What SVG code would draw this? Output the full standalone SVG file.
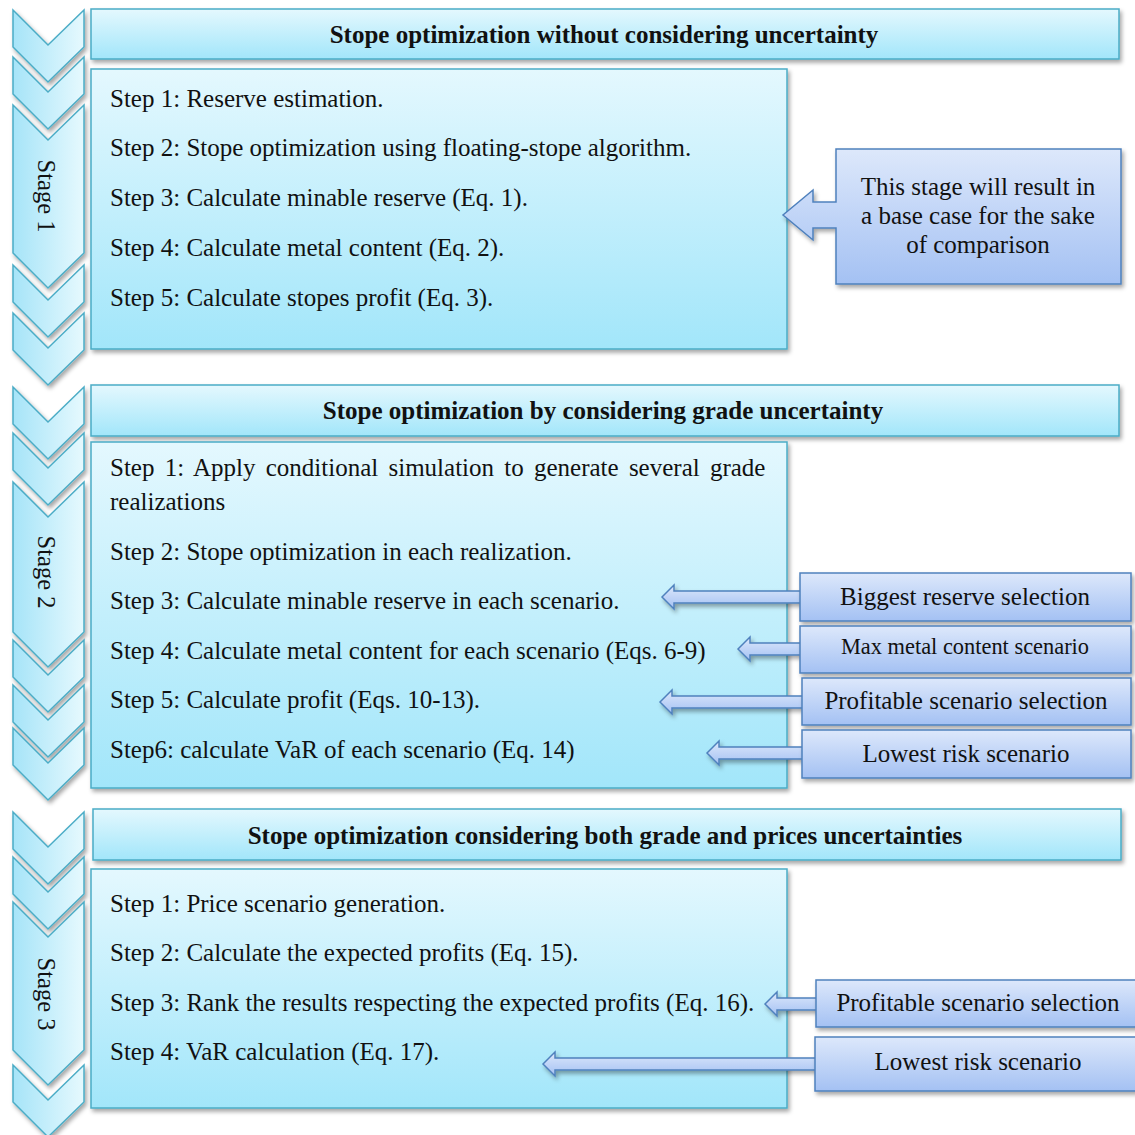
<svg xmlns="http://www.w3.org/2000/svg" width="1135" height="1135" viewBox="0 0 1135 1135">
<defs>
<linearGradient id="gBody" x1="0" y1="0" x2="0" y2="1"><stop offset="0" stop-color="#e4f8fe"/><stop offset="1" stop-color="#a2e6fa"/></linearGradient>
<linearGradient id="gChev" x1="0" y1="0" x2="1" y2="0"><stop offset="0" stop-color="#a6e4f8"/><stop offset="1" stop-color="#e6f9fe"/></linearGradient>
<linearGradient id="gCall" x1="0" y1="0" x2="0" y2="1"><stop offset="0" stop-color="#dde8fb"/><stop offset="1" stop-color="#a4c1f3"/></linearGradient>
<filter id="sh" x="-10%" y="-10%" width="130%" height="140%"><feDropShadow dx="2" dy="3" stdDeviation="2" flood-color="#000" flood-opacity="0.35"/></filter>
</defs>
<style>
.box{fill:url(#gBody);stroke:#4bacc6;stroke-width:1.5;filter:url(#sh)}
.chev{fill:url(#gChev);stroke:#4bacc6;stroke-width:1.5;filter:url(#sh)}
.call{fill:url(#gCall);stroke:#4f81bd;stroke-width:1.5;filter:url(#sh)}
.arr{fill:url(#gCall);stroke:#4f81bd;stroke-width:1.5;filter:url(#sh)}
text{font-family:"Liberation Serif","Times New Roman",serif;fill:#111}
.t{font-size:25px}
.h{font-size:25px;font-weight:bold;text-anchor:middle}
.c{font-size:25px;text-anchor:middle}
.cs{font-size:22.4px;text-anchor:middle}
.st{font-size:24.5px;text-anchor:middle}
</style>

<g id="chevrons">
<path class="chev" d="M13,10 L48,45 L84,10 L84,47 L48,82 L13,47 Z"/>
<path class="chev" d="M13,57 L48,92 L84,57 L84,94 L48,129 L13,94 Z"/>
<path class="chev" d="M13,105 L48,140 L84,105 L84,253 L48,288 L13,253 Z"/>
<path class="chev" d="M13,265 L48,300 L84,265 L84,302 L48,337 L13,302 Z"/>
<path class="chev" d="M13,313 L48,348 L84,313 L84,350 L48,385 L13,350 Z"/>

<path class="chev" d="M13,387 L48,422 L84,387 L84,424 L48,459 L13,424 Z"/>
<path class="chev" d="M13,433 L48,468 L84,433 L84,470 L48,505 L13,470 Z"/>
<path class="chev" d="M13,482 L48,517 L84,482 L84,632 L48,667 L13,632 Z"/>
<path class="chev" d="M13,640 L48,675 L84,640 L84,677 L48,712 L13,677 Z"/>
<path class="chev" d="M13,685 L48,720 L84,685 L84,722 L48,757 L13,722 Z"/>
<path class="chev" d="M13,728 L48,763 L84,728 L84,765 L48,800 L13,765 Z"/>

<path class="chev" d="M13,812 L48,847 L84,812 L84,849 L48,884 L13,849 Z"/>
<path class="chev" d="M13,857 L48,892 L84,857 L84,894 L48,929 L13,894 Z"/>
<path class="chev" d="M13,902 L48,937 L84,902 L84,1050 L48,1085 L13,1050 Z"/>
<path class="chev" d="M13,1065 L48,1100 L84,1065 L84,1102 L48,1137 L13,1102 Z"/>

<text class="st" transform="translate(45,196) rotate(90)" y="7">Stage 1</text>
<text class="st" transform="translate(45,572) rotate(90)" y="7">Stage 2</text>
<text class="st" transform="translate(45,994) rotate(90)" y="7">Stage 3</text>
</g>

<g id="stage1">
<rect class="box" x="91" y="9" width="1028" height="50"/>
<text class="h" x="604" y="43">Stope optimization without considering uncertainty</text>
<rect class="box" x="91" y="69" width="696" height="280"/>
<text class="t" x="110" y="107">Step 1: Reserve estimation.</text>
<text class="t" x="110" y="156">Step 2: Stope optimization using floating-stope algorithm.</text>
<text class="t" x="110" y="206">Step 3: Calculate minable reserve (Eq. 1).</text>
<text class="t" x="110" y="256">Step 4: Calculate metal content (Eq. 2).</text>
<text class="t" x="110" y="306">Step 5: Calculate stopes profit (Eq. 3).</text>
</g>

<g id="stage2">
<rect class="box" x="91" y="385" width="1028" height="51"/>
<text class="h" x="603" y="419">Stope optimization by considering grade uncertainty</text>
<rect class="box" x="91" y="442" width="696" height="346"/>
<text class="t" x="110" y="476" word-spacing="4">Step 1: Apply conditional simulation to generate several grade</text>
<text class="t" x="110" y="510">realizations</text>
<text class="t" x="110" y="560">Step 2: Stope optimization in each realization.</text>
<text class="t" x="110" y="609">Step 3: Calculate minable reserve in each scenario.</text>
<text class="t" x="110" y="659">Step 4: Calculate metal content for each scenario (Eqs. 6-9)</text>
<text class="t" x="110" y="708">Step 5: Calculate profit (Eqs. 10-13).</text>
<text class="t" x="110" y="758">Step6: calculate VaR of each scenario (Eq. 14)</text>
</g>

<g id="stage3">
<rect class="box" x="93" y="809" width="1028" height="51"/>
<text class="h" x="605" y="844">Stope optimization considering both grade and prices uncertainties</text>
<rect class="box" x="91" y="869" width="696" height="239"/>
<text class="t" x="110" y="912">Step 1: Price scenario generation.</text>
<text class="t" x="110" y="961">Step 2: Calculate the expected profits (Eq. 15).</text>
<text class="t" x="110" y="1011">Step 3: Rank the results respecting the expected profits (Eq. 16).</text>
<text class="t" x="110" y="1060">Step 4: VaR calculation (Eq. 17).</text>
</g>

<g id="connectors">
<path class="arr" d="M662,597 L674,585 L674,591 L804,591 L804,603 L674,603 L674,609 Z"/>
<path class="arr" d="M738,649 L750,637 L750,643 L804,643 L804,655 L750,655 L750,661 Z"/>
<path class="arr" d="M660,702 L672,690 L672,696 L806,696 L806,708 L672,708 L672,714 Z"/>
<path class="arr" d="M707,753 L719,741 L719,747 L806,747 L806,759 L719,759 L719,765 Z"/>
<path class="arr" d="M765,1004 L777,992 L777,998 L818,998 L818,1010 L777,1010 L777,1016 Z"/>
<path class="arr" d="M543,1064 L555,1052 L555,1058 L818,1058 L818,1070 L555,1070 L555,1076 Z"/>
</g>

<g id="callout-base">
<path class="call" d="M836,149 L1121,149 L1121,284 L836,284 L836,228 L813,228 L813,240 L783,215 L813,190 L813,202 L836,202 Z"/>
<text class="c" x="978" y="195">This stage will result in</text>
<text class="c" x="978" y="224">a base case for the sake</text>
<text class="c" x="978" y="253">of comparison</text>
</g>

<g id="callout-biggest">
<rect class="call" x="800" y="573" width="331" height="48"/>
<text class="c" x="965" y="605">Biggest reserve selection</text>
</g>
<g id="callout-maxmetal">
<rect class="call" x="800" y="626" width="331" height="47"/>
<text class="cs" x="965" y="654">Max metal content scenario</text>
</g>
<g id="callout-profitable2">
<rect class="call" x="802" y="678" width="329" height="47"/>
<text class="c" x="966" y="709">Profitable scenario selection</text>
</g>
<g id="callout-lowest2">
<rect class="call" x="802" y="730" width="329" height="48"/>
<text class="c" x="966" y="762">Lowest risk scenario</text>
</g>
<g id="callout-profitable3">
<rect class="call" x="816" y="980" width="325" height="47"/>
<text class="c" x="978" y="1011">Profitable scenario selection</text>
</g>
<g id="callout-lowest3">
<rect class="call" x="815" y="1037" width="326" height="54"/>
<text class="c" x="978" y="1070">Lowest risk scenario</text>
</g>
</svg>
